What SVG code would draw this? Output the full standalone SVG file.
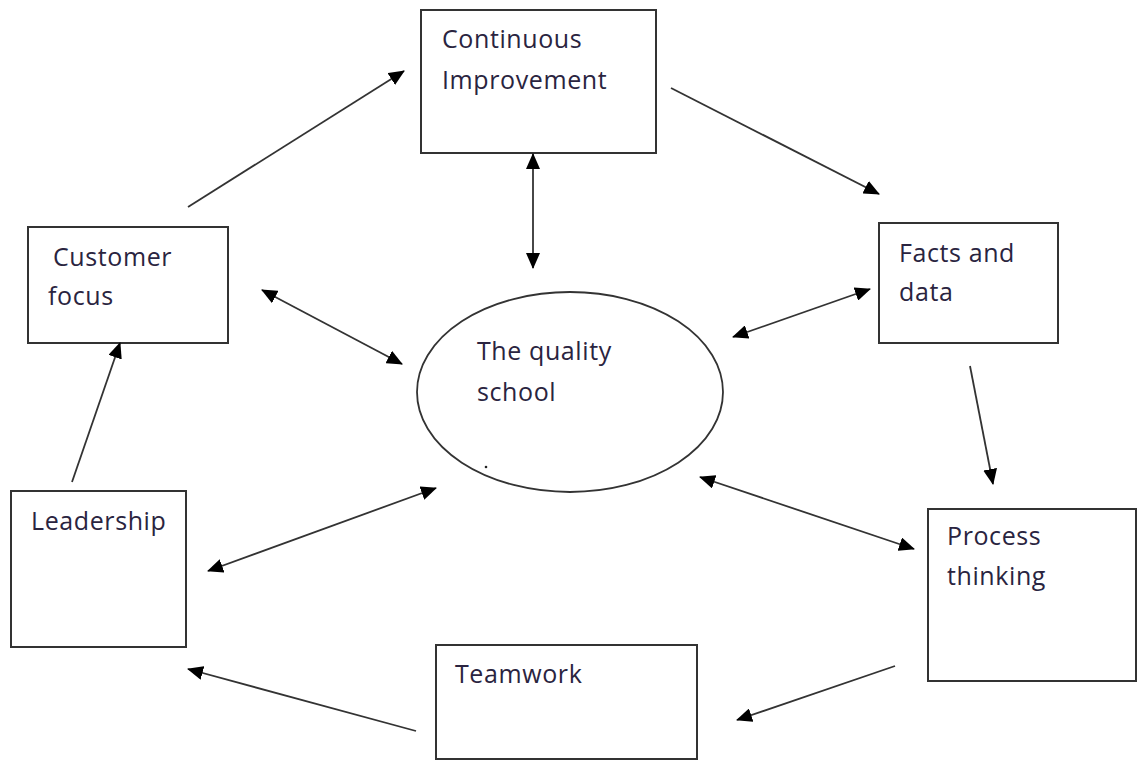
<svg xmlns="http://www.w3.org/2000/svg" width="1137" height="761" viewBox="0 0 1137 761">
<style>
.box{fill:#fff;stroke:#333;stroke-width:2}
.lbl{font-family:"Open Sans",Lato,sans-serif;font-size:25px;letter-spacing:0.6px;fill:#2a2440}
.con line{stroke:#333;stroke-width:1.8}
</style>
<defs>
<marker id="ah" viewBox="0 0 16 14" refX="15" refY="7" markerWidth="16" markerHeight="14" markerUnits="userSpaceOnUse" orient="auto-start-reverse">
<path d="M0,0 L16,7 L0,14 Z" fill="#000"/>
</marker>
</defs>
<rect width="1137" height="761" fill="#fff"/>
<g id="ci"><rect class="box" x="421" y="10" width="235" height="143"/>
<text class="lbl" x="442" y="48">Continuous</text><text class="lbl" x="442" y="89">Improvement</text></g>
<g id="cf"><rect class="box" x="28" y="227" width="200" height="116"/>
<text class="lbl" x="53" y="266">Customer</text><text class="lbl" x="48" y="305">focus</text></g>
<g id="fd"><rect class="box" x="879" y="223" width="179" height="120"/>
<text class="lbl" x="899" y="262">Facts and</text><text class="lbl" x="899" y="301">data</text></g>
<g id="qs"><ellipse cx="570" cy="392" rx="153" ry="100" fill="#fff" stroke="#333" stroke-width="1.8"/>
<text class="lbl" x="477" y="360">The quality</text><text class="lbl" x="477" y="401">school</text>
<circle cx="486" cy="467" r="1.3" fill="#222"/></g>
<g id="ld"><rect class="box" x="11" y="491" width="175" height="156"/>
<text class="lbl" x="31" y="530">Leadership</text></g>
<g id="pt"><rect class="box" x="928" y="509" width="208" height="172"/>
<text class="lbl" x="947" y="545">Process</text><text class="lbl" x="947" y="585">thinking</text></g>
<g id="tw"><rect class="box" x="436" y="645" width="261" height="114"/>
<text class="lbl" x="455" y="683">Teamwork</text></g>
<g class="con" id="connectors">
<line x1="188" y1="207" x2="404" y2="71" marker-end="url(#ah)"/>
<line x1="671" y1="88" x2="879" y2="194" marker-end="url(#ah)"/>
<line x1="533" y1="154" x2="533" y2="268" marker-start="url(#ah)" marker-end="url(#ah)"/>
<line x1="262" y1="290" x2="402" y2="364" marker-start="url(#ah)" marker-end="url(#ah)"/>
<line x1="733" y1="337" x2="870" y2="289" marker-start="url(#ah)" marker-end="url(#ah)"/>
<line x1="970" y1="366" x2="993" y2="484" marker-end="url(#ah)"/>
<line x1="700" y1="477" x2="914" y2="549" marker-start="url(#ah)" marker-end="url(#ah)"/>
<line x1="895" y1="666" x2="737" y2="720" marker-end="url(#ah)"/>
<line x1="416" y1="731" x2="188" y2="669" marker-end="url(#ah)"/>
<line x1="208" y1="571" x2="436" y2="488" marker-start="url(#ah)" marker-end="url(#ah)"/>
<line x1="72" y1="482" x2="120" y2="343" marker-end="url(#ah)"/>
</g>
</svg>
